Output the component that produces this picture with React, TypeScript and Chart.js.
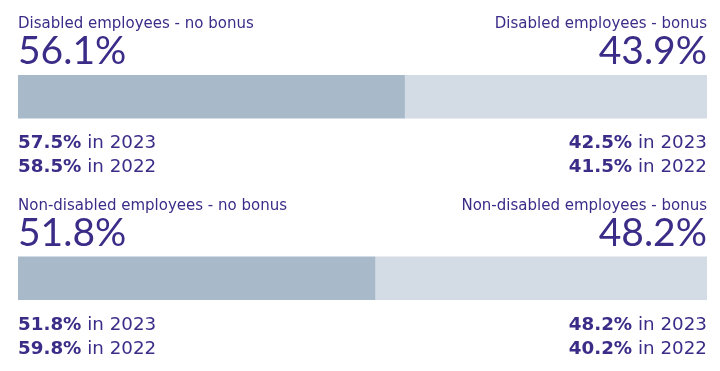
import React, { useEffect, useRef } from "react";
import { Chart, registerables } from "chart.js";

Chart.register(...registerables);

const groups = ["Disabled employees", "Non-disabled employees"];
const noBonus = [56.1, 51.8];
const bonus = [43.9, 48.2];
const noBonus2023 = [57.5, 51.8];
const noBonus2022 = [58.5, 59.8];
const bonus2023 = [42.5, 48.2];
const bonus2022 = [41.5, 40.2];
const years = ["2023", "2022"];

const TEXT = "#3b2c88";
const BIG_FONT = "Lato, 'Noto Sans', sans-serif";
const FONT = "'DejaVu Sans', 'Open Sans', sans-serif";

const fmt = (v: number) => v.toFixed(1) + "%";

const textPlugin = {
  id: "bonusText",
  afterDatasetsDraw(chart: any) {
    const ctx = chart.ctx as CanvasRenderingContext2D;
    const meta = chart.getDatasetMeta(0);
    const left = chart.chartArea.left;
    const right = chart.chartArea.right;
    ctx.save();
    ctx.fillStyle = TEXT;
    ctx.textBaseline = "alphabetic";
    meta.data.forEach((bar: any, i: number) => {
      const top = bar.y - bar.height / 2;
      const bottom = bar.y + bar.height / 2;
      // titles
      ctx.font = `400 15px ${FONT}`;
      ctx.textAlign = "left";
      ctx.fillText(`${groups[i]} - no bonus`, left, top - 47);
      ctx.textAlign = "right";
      ctx.fillText(`${groups[i]} - bonus`, right, top - 47);
      // big values
      ctx.font = `400 39px ${BIG_FONT}`;
      ctx.textAlign = "left";
      ctx.fillText(fmt(noBonus[i]), left, top - 11);
      ctx.textAlign = "right";
      ctx.fillText(fmt(bonus[i]), right, top - 11);
      // year lines
      const lines = [
        [noBonus2023[i], bonus2023[i]],
        [noBonus2022[i], bonus2022[i]],
      ];
      lines.forEach((pair, k) => {
        const yb = bottom + 30 + k * 24;
        const suffix = ` in ${years[k]}`;
        ctx.textAlign = "left";
        ctx.font = `700 18.3px ${FONT}`;
        const a = fmt(pair[0]);
        ctx.fillText(a, left, yb);
        const aw = ctx.measureText(a).width;
        ctx.font = `400 18.3px ${FONT}`;
        ctx.fillText(suffix, left + aw, yb);
        ctx.font = `400 18.3px ${FONT}`;
        const sw = ctx.measureText(suffix).width;
        ctx.textAlign = "right";
        ctx.fillText(suffix, right, yb);
        ctx.font = `700 18.3px ${FONT}`;
        ctx.fillText(fmt(pair[1]), right - sw, yb);
      });
    });
    ctx.restore();
  },
};

export default function App() {
  const ref = useRef<HTMLCanvasElement>(null);
  useEffect(() => {
    document.body.style.margin = "0";
    const chart = new Chart(ref.current!, {
      type: "bar",
      data: {
        labels: groups,
        datasets: [
          { label: "No bonus", data: noBonus, backgroundColor: "#a8b9ca", barThickness: 43 },
          { label: "Bonus", data: bonus, backgroundColor: "#d3dce5", barThickness: 43 },
        ],
      },
      options: {
        indexAxis: "y",
        animation: false,
        responsive: true,
        maintainAspectRatio: false,
        layout: { padding: { top: 6, bottom: 2, left: 18, right: 13 } },
        scales: {
          x: { stacked: true, min: 0, max: 100, display: false },
          y: { stacked: true, display: false },
        },
        plugins: { legend: { display: false }, tooltip: { enabled: false } },
      },
      plugins: [textPlugin],
    });
    return () => chart.destroy();
  }, []);
  return (
    <div style={{ width: 720, height: 371, position: "relative", background: "#fff" }}>
      <canvas ref={ref} />
    </div>
  );
}
